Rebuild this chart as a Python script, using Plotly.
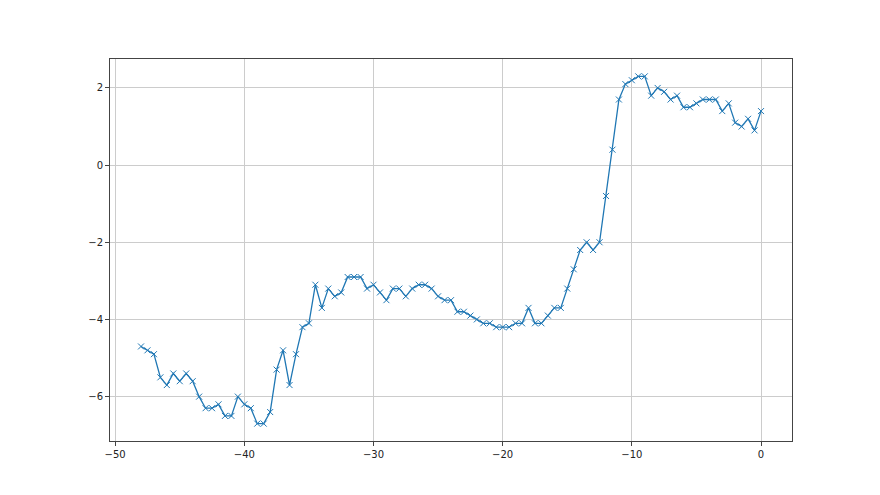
import plotly.graph_objects as go

x_vals = [-48 + 0.5 * i for i in range(97)]
y_vals = [
    -4.7, -4.8, -4.9, -5.5, -5.7, -5.4, -5.6, -5.4, -5.6, -6.0,
    -6.3, -6.3, -6.2, -6.5, -6.5, -6.0, -6.2, -6.3, -6.7, -6.7,
    -6.4, -5.3, -4.8, -5.7, -4.9, -4.2, -4.1, -3.1, -3.7, -3.2,
    -3.4, -3.3, -2.9, -2.9, -2.9, -3.2, -3.1, -3.3, -3.5, -3.2,
    -3.2, -3.4, -3.2, -3.1, -3.1, -3.2, -3.4, -3.5, -3.5, -3.8,
    -3.8, -3.9, -4.0, -4.1, -4.1, -4.2, -4.2, -4.2, -4.1, -4.1,
    -3.7, -4.1, -4.1, -3.9, -3.7, -3.7, -3.2, -2.7, -2.2, -2.0,
    -2.2, -2.0, -0.8, 0.4, 1.7, 2.1, 2.2, 2.3, 2.3, 1.8,
    2.0, 1.9, 1.7, 1.8, 1.5, 1.5, 1.6, 1.7, 1.7, 1.7,
    1.4, 1.6, 1.1, 1.0, 1.2, 0.9, 1.4,
]
x_ticks = [-50, -40, -30, -20, -10, 0]
y_ticks = [-6, -4, -2, 0, 2]

fig = go.Figure()
fig.add_trace(go.Scatter(
    x=x_vals, y=y_vals, mode="lines+markers",
    line=dict(color="#1f77b4", width=1.3),
    marker=dict(symbol="x-thin", size=6, color="#1f77b4",
                line=dict(color="#1f77b4", width=1)),
    showlegend=False,
))

axis_common = dict(
    showgrid=True, gridcolor="#cccccc", gridwidth=1,
    showline=True, linecolor="#444444", linewidth=1, mirror=True,
    ticks="outside", ticklen=4, tickcolor="#444444", tickwidth=1,
    zeroline=False,
    tickfont=dict(family="DejaVu Sans", size=10, color="#222222"),
)

fig.update_layout(
    width=880, height=495,
    margin=dict(l=102, r=96, t=51, b=62),
    plot_bgcolor="white", paper_bgcolor="white",
    xaxis=dict(range=[-50.4, 2.4], tickvals=x_ticks, **axis_common),
    yaxis=dict(range=[-7.15, 2.75], tickvals=y_ticks, **axis_common),
)

fig.write_html("out.html")
